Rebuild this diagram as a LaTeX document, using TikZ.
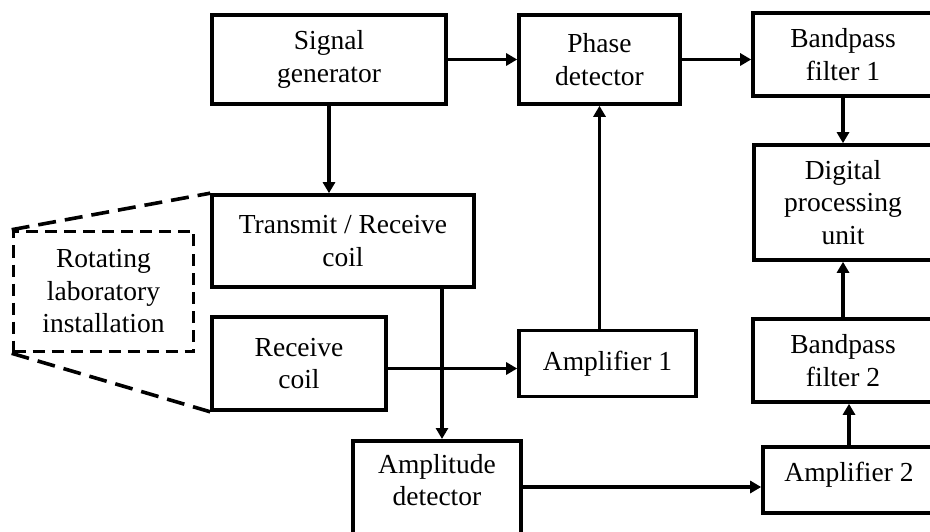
\documentclass[tikz,border=0pt]{standalone}
\usepackage{fontspec}
\setmainfont{Liberation Serif}
\usetikzlibrary{arrows.meta}
\tikzset{
	blk/.style={draw, line width=3.6pt, inner sep=0pt, align=center, font=\fontsize{27.5}{32.5}\selectfont},
	arr/.style={line width=3.6pt, -{Triangle[length=11pt,width=12pt]}},
	dsh/.style={line width=3.6pt, dash pattern=on 18pt off 9pt}
}
\begin{document}
\begin{tikzpicture}[x=1pt, y=-1pt]
			%%%%% START %%%%%
			\useasboundingbox (0, 0) rectangle (930, 532);
			\clip (0, 0) rectangle (930, 532);
			
			\node[blk, minimum width=234pt, minimum height=89pt] (sig) at (329, 59.5) {Signal\\generator};
			\node[blk, minimum width=161pt, minimum height=89pt] (phase) at (599.5, 59.5) {Phase\\detector};
			\node[blk, minimum width=180pt, minimum height=83pt] (bpf1) at (843, 54.5) {Bandpass\\filter 1};
			\node[blk, minimum width=178pt, minimum height=115pt] (dpu) at (843, 202.5) {Digital\\processing\\unit};
			\node[blk, minimum width=180pt, minimum height=83pt] (bpf2) at (843, 360.5) {Bandpass\\filter 2};
			\node[blk, minimum width=172pt, minimum height=66pt, text height=18pt, text depth=16pt] (amp2) at (849, 480) {Amplifier 2};
			
			\node[blk, minimum width=262pt, minimum height=92pt] (tr) at (343, 241) {Transmit / Receive\\coil};
			\node[blk, minimum width=174pt, minimum height=93pt] (rc) at (299, 363.5) {Receive\\coil};
			\node[blk, minimum width=177pt, minimum height=66pt] (amp1) at (607.5, 363.5) {Amplifier 1};
			
			\node[blk, minimum width=168pt, minimum height=120pt, anchor=north] (ampd) at (437, 439) {};
			\node[align=center, inner sep=0pt, font=\fontsize{27.5}{32.5}\selectfont, anchor=north] (ampdtxt) at ([yshift=-15pt]ampd.north) {Amplitude\\detector};
			
			\node[blk, dash pattern=on 12pt off 7pt, minimum width=180pt, minimum height=120pt] (rot) at (103.5, 291.5) {Rotating\\laboratory\\installation};
			\draw[dsh] (rot.north west) -- (tr.north west);
			\draw[dsh] (rot.south west) -- (rc.south west);
			
			\draw[arr] (sig.east) -- (phase.west);
			\draw[arr] (sig.south) -- (sig.south |- tr.north);
			\draw[arr] (phase.east) -- (phase.east -| bpf1.west);
			\draw[arr] (bpf1.south) -- (dpu.north);
			\draw[arr] (bpf2.north) -- (dpu.south);
			\draw[arr] (amp2.north) -- (amp2.north |- bpf2.south);
			\draw[arr] (phase.south |- amp1.north) -- (phase.south);
			\draw[arr] ([yshift=-5pt]rc.east) -- ([yshift=-5pt]rc.east -| amp1.west);
			\draw[arr] (tr.south -| 442, 0) -- (ampd.north -| 442, 0);
			\draw[arr] (ampd.east |- 0, 487) -- (amp2.west |- 0, 487);
			
			%%%%% END %%%%%
\end{tikzpicture}
\end{document}
